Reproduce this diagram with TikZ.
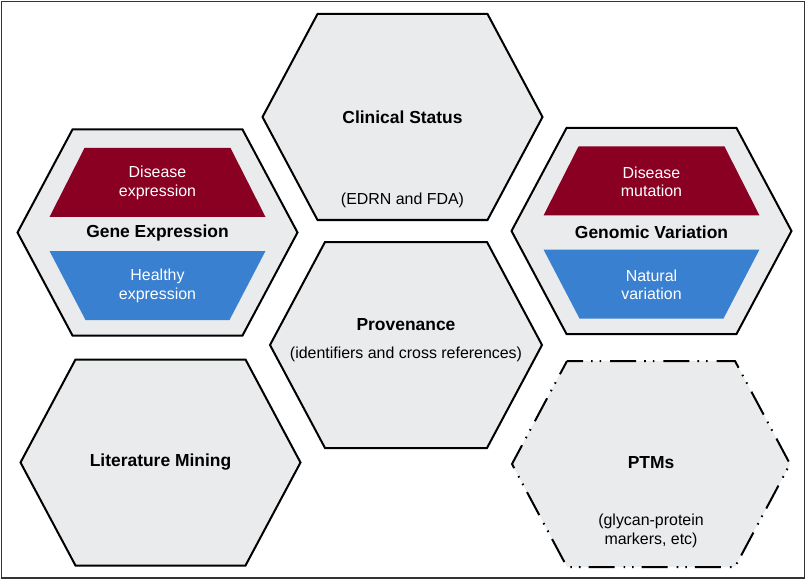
\documentclass[tikz,border=0pt]{standalone}
\usepackage{fontspec}
\setmainfont{Liberation Sans}
\definecolor{hexfill}{HTML}{E9EBEC}
\definecolor{trapred}{HTML}{8A0022}
\definecolor{trapblue}{HTML}{3A80D0}
\definecolor{framegray}{HTML}{333333}
\tikzset{
  hexbox/.style={draw=black, line width=2bp, fill=hexfill, line join=miter},
  hexdash/.style={draw=black, line width=2bp, fill=hexfill, dash pattern=on 26bp off 8bp on 1.6bp off 7bp on 1.6bp off 9bp, dash phase=10bp},
  title/.style={font=\fontsize{17.5}{20}\selectfont\bfseries, inner sep=0pt},
  sub/.style={font=\fontsize{16}{18.5}\selectfont, align=center, inner sep=0pt},
  traptext/.style={font=\fontsize{16}{18.5}\selectfont, align=center, text=white, inner sep=0pt},
  redtrap/.style={fill=trapred, draw=none},
  bluetrap/.style={fill=trapblue, draw=none}
}
\newcommand{\hexat}[4]{% style, cx, cy, halfwidth
  \begin{scope}[shift={(#2,#3)}]
    \path[#1] ({-#4+55},-103) -- ({#4-55},-103) -- (#4,0) -- ({#4-55},103) -- ({-#4+55},103) -- (-#4,0) -- cycle;
  \end{scope}}
\newcommand{\traps}[2]{%
  \begin{scope}[shift={(#1,#2)}]
    \path[redtrap] (-73,-84.5) -- (73,-84.5) -- (108,-15.5) -- (-108,-15.5) -- cycle;
    \path[bluetrap] (-108,18.5) -- (108,18.5) -- (72,87.5) -- (-72,87.5) -- cycle;
  \end{scope}}
\begin{document}
\begin{tikzpicture}[x=1bp,y=-1bp]
\useasboundingbox (0,0) rectangle (807,580);
\draw[framegray, line width=1.5bp] (1.5,1.5) rectangle (804.5,578);

% hexagons
\hexat{hexbox}{402.5}{117}{140}
\hexat{hexbox}{157.5}{232.5}{140}
\hexat{hexbox}{651.5}{231}{140}
\hexat{hexbox}{406}{345}{136}
\hexat{hexbox}{160.5}{462.5}{140}
\hexat{hexdash}{651}{464}{139}

\traps{157.5}{232.5}
\traps{651.5}{231}

% texts
\node[title] (clin) at (402.5,117) {Clinical Status};
\node[sub] (clinsub) at (402.5,200) {(EDRN and FDA)};

\node[title] (gene) at (157.5,233) {Gene Expression};
\node[traptext] (gdis) at (157.5,183) {Disease\\expression};
\node[traptext] (ghea) at (157.5,286) {Healthy\\expression};

\node[title] (geno) at (651.5,232) {Genomic Variation};
\node[traptext] (mdis) at (651.5,182) {Disease\\mutation};
\node[traptext] (mnat) at (651.5,285) {Natural\\variation};

\node[title] (prov) at (406,325) {Provenance};
\node[sub] (provsub) at (406,354) {(identifiers and cross references)};

\node[title] (lit) at (160.5,462) {Literature Mining};

\node[title] (ptm) at (651,463) {PTMs};
\node[sub] (ptmsub) at (651,531) {(glycan-protein\\markers, etc)};
\end{tikzpicture}
\end{document}
